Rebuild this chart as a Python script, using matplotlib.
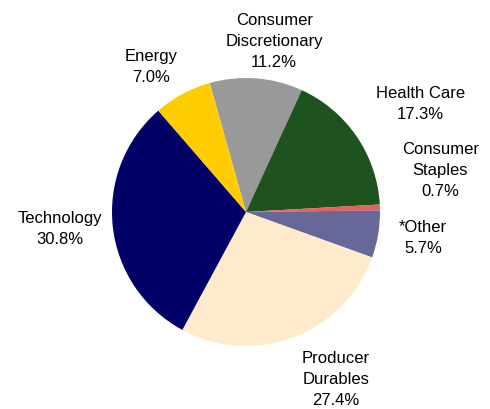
import matplotlib
matplotlib.use("Agg")
import matplotlib.pyplot as plt

# sector data, clockwise from the top
sectors = ["Consumer\nDiscretionary", "Health Care", "Consumer\nStaples", "*Other",
           "Producer\nDurables", "Technology", "Energy"]
weights = [11.2, 17.3, 0.7, 5.7, 27.4, 30.8, 7.0]
colors = ["#999999", "#1E5320", "#E8605A", "#676799", "#FFEBCC", "#000066", "#FFCC00"]

# label centres, in pie-radius units
label_pos = [(0.21, 1.28), (1.30, 0.81), (1.45, 0.32), (1.32, -0.19),
             (0.67, -1.24), (-1.39, -0.12), (-0.71, 1.09)]

plt.rcParams['font.family'] = ['Liberation Sans', 'DejaVu Sans']

fig = plt.figure(figsize=(4.9, 4.1), dpi=100)
ax = fig.add_axes([112/490, 62/410, 268/490, 270/410])

wedges, _ = ax.pie(weights, colors=colors, startangle=105.7, counterclock=False,
                   radius=1.0, wedgeprops=dict(linewidth=0))
ax.set_xlim(-1, 1)
ax.set_ylim(-1, 1)
ax.set_aspect('equal')
ax.axis('off')

for name, w, (x, y) in zip(sectors, weights, label_pos):
    ax.text(x, y, name + "\n" + "%.1f%%" % w, ha='center', va='center',
            fontsize=12, linespacing=1.5, color='black')

plt.savefig("out.png", dpi=100)
